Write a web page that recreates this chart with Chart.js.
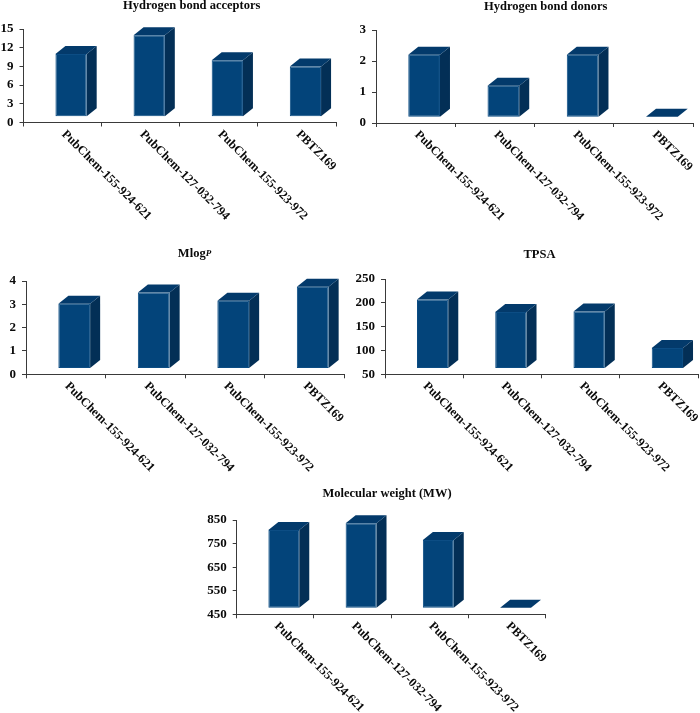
<!DOCTYPE html>
<html>
<head>
<meta charset="utf-8">
<script src="https://cdn.jsdelivr.net/npm/chart.js@4"></script>
<style>
html,body{margin:0;padding:0;background:#fff;}
#wrap{position:relative;width:700px;height:713px;overflow:hidden;}
canvas{position:absolute;}
</style>
</head>
<body>
<div id="wrap"></div>
<script>
const categories = ['PubChem-155-924-621','PubChem-127-032-794','PubChem-155-923-972','PBTZ169'];
const acceptors = [11, 14, 10, 9];
const donors = [2.2, 1.2, 2.2, 0.2];
const mlogp = [3.03, 3.51, 3.15, 3.75];
const tpsa = [207, 181, 182, 105];
const mw = [808, 836, 765, 478];

const FRONT = '#03447a', TOP = '#033a6b', SIDE = '#032f56', EDGE = '#0c4d84', AXIS = '#3a3a3a', INK = '#0a0a0a';
const SERIF = '"Liberation Serif","Times New Roman",serif';

const panels = [
  {title:[['Hydrogen bond acceptors',12.5,'bold']], values:acceptors, floor:1, min:0, max:15, step:3,
   box:[0,0,350,240], plot:[23.5,29,336,122.5], tx:191.7, ty:5.5},
  {title:[['Hydrogen bond donors',12.5,'bold']], values:donors, floor:0.2, min:0, max:3, step:1,
   box:[350,0,350,240], plot:[26,30,343,123], tx:195.7, ty:7},
  {title:[['Mlog',12.5,'bold'],['P',9,'italic bold']], values:mlogp, floor:0.27, min:0, max:4, step:1,
   box:[0,240,350,240], plot:[26,41,344,134.3], tx:194.5, ty:14},
  {title:[['TPSA',12.5,'bold']], values:tpsa, floor:63, min:50, max:250, step:50,
   box:[350,240,350,240], plot:[35,39,348,134.3], tx:189.5, ty:15},
  {title:[['Molecular weight (MW)',12.5,'bold']], values:mw, floor:478, min:450, max:850, step:100,
   box:[180,480,380,233], plot:[56.7,40,365.7,134.3], tx:207, ty:14}
];

const bar3d = {
  id:'bar3d',
  beforeDatasetsDraw(chart,args,o){
    const c = chart.ctx;
    c.save();
    c.translate(o.shift,0);
    chart.getDatasetMeta(0).data.forEach(b=>{
      const p = b.getProps(['x','y','base','width'],true);
      const l = p.x-p.width/2, r = p.x+p.width/2;
      c.fillStyle = SIDE;
      c.beginPath();
      c.moveTo(r,p.y); c.lineTo(r+o.dx,p.y-o.dy); c.lineTo(r+o.dx,p.base-o.dy); c.lineTo(r,p.base);
      c.closePath(); c.fill();
      c.fillStyle = TOP;
      c.beginPath();
      c.moveTo(l,p.y); c.lineTo(l+o.dx,p.y-o.dy); c.lineTo(r+o.dx,p.y-o.dy); c.lineTo(r,p.y);
      c.closePath(); c.fill();
    });
  },
  afterDatasetsDraw(chart){ chart.ctx.restore(); },
  afterDraw(chart,args,o){
    const c = chart.ctx, s = chart.scales.x;
    c.save();
    c.fillStyle = INK;
    c.font = 'bold 12.4px '+SERIF;
    c.textAlign = 'left';
    c.textBaseline = 'middle';
    s.ticks.forEach((t,i)=>{
      c.save();
      c.translate(s.getPixelForTick(i)+o.lx, s.bottom+o.ly);
      c.rotate(Math.PI/4);
      c.fillText(s.getLabelForValue(t.value),0,0);
      c.restore();
    });
    c.textBaseline = 'middle';
    let w = 0;
    o.title.forEach(r=>{ c.font = r[2]+' '+r[1]+'px '+SERIF; w += c.measureText(r[0]).width; });
    let x = o.tx - w/2;
    o.title.forEach(r=>{
      c.font = r[2]+' '+r[1]+'px '+SERIF;
      c.fillText(r[0],x,o.ty);
      x += c.measureText(r[0]).width;
    });
    c.restore();
  }
};

const wrap = document.getElementById('wrap');
panels.forEach(p=>{
  const cv = document.createElement('canvas');
  const [bx,by,bw,bh] = p.box;
  cv.style.left = bx+'px'; cv.style.top = by+'px';
  cv.width = bw; cv.height = bh;
  cv.style.width = bw+'px'; cv.style.height = bh+'px';
  wrap.appendChild(cv);
  const [pl,pt,pr,pb] = p.plot;
  new Chart(cv,{
    type:'bar',
    data:{labels:categories, datasets:[{
      data:p.values.map(v=>[p.floor,v]),
      backgroundColor:FRONT, borderColor:EDGE, borderWidth:1, borderSkipped:false,
      barPercentage:1, categoryPercentage:0.4, clip:false
    }]},
    options:{
      responsive:false, animation:false, devicePixelRatio:1,
      layout:{padding:{left:0,top:pt,right:bw-pr,bottom:bh-pb}},
      scales:{
        x:{
          afterFit(s){ s.height = 0; },
          ticks:{display:false},
          grid:{display:true,offset:true,drawOnChartArea:false,drawTicks:true,tickLength:4,tickColor:AXIS,color:AXIS},
          border:{display:true,color:AXIS,width:1}
        },
        y:{
          min:p.min, max:p.max,
          afterFit(s){ s.width = pl; },
          ticks:{stepSize:p.step,padding:6,color:INK,font:{family:SERIF,size:13,weight:'bold'}},
          grid:{display:true,drawOnChartArea:false,drawTicks:true,tickLength:4,tickColor:AXIS,color:AXIS},
          border:{display:true,color:AXIS,width:1}
        }
      },
      plugins:{
        legend:{display:false}, title:{display:false}, tooltip:{enabled:false},
        bar3d:{shift:8.5,dx:10,dy:8,lx:1,ly:10,title:p.title,tx:p.tx,ty:p.ty}
      }
    },
    plugins:[bar3d]
  });
});
</script>
</body>
</html>
